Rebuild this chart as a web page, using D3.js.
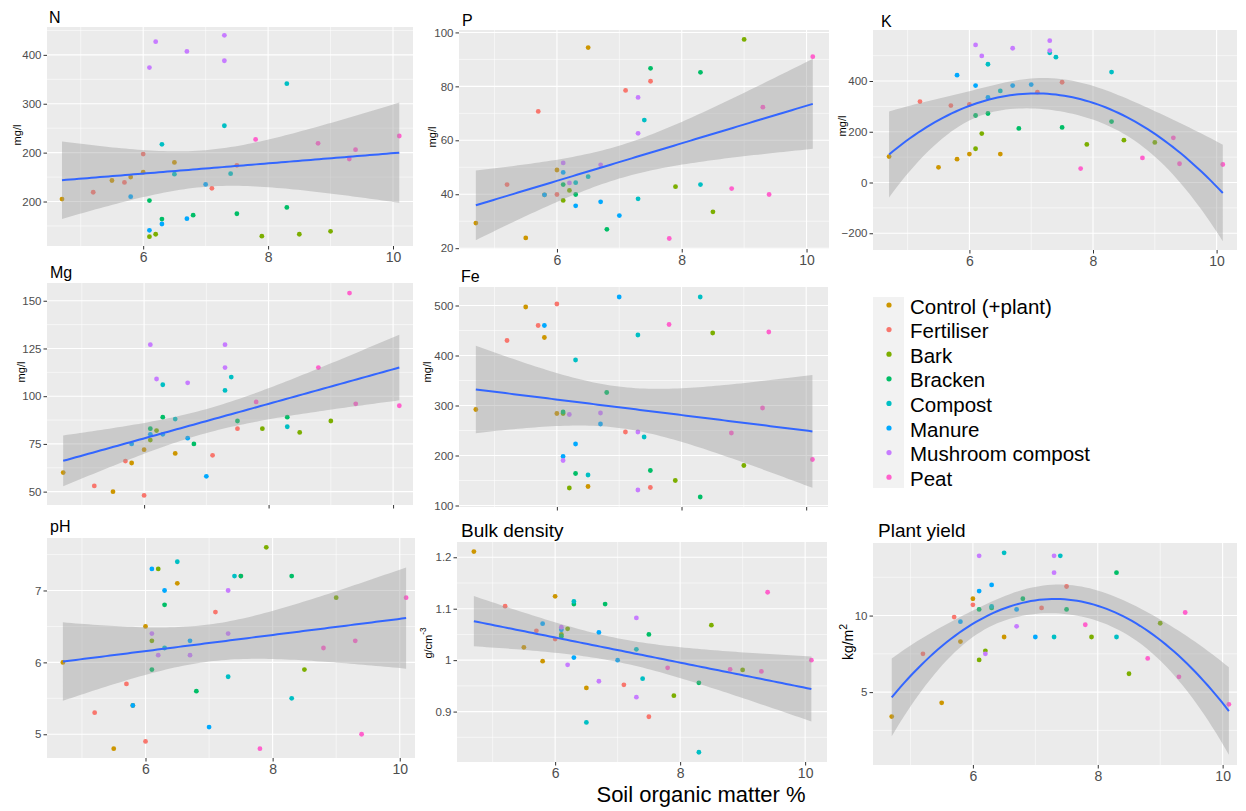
<!DOCTYPE html>
<html>
<head>
<meta charset="utf-8">
<script src="https://cdn.jsdelivr.net/npm/d3@7"></script>
<style>
  body { margin: 0; background: #ffffff; }
  svg { display: block; font-family: "Liberation Sans", Arial, Helvetica, sans-serif; }
</style>
</head>
<body>
<svg id="fig" width="1246" height="811"></svg>
<script>
// ---- Treatments (5 plots each) ----
const treatments = ["Control (+plant)", "Fertiliser", "Bark", "Bracken", "Compost", "Manure", "Mushroom compost", "Peat"];
const treatmentColours = ["#CD9600", "#F8766D", "#7CAE00", "#00BE67", "#00BFC4", "#00A9FF", "#C77CFF", "#FF61CC"];

// Soil organic matter % of each plot, grouped by treatment
const somPct = [
  [4.7, 5.5, 5.8, 6.0, 6.5],
  [5.2, 5.7, 6.0, 7.1, 7.5],
  [6.1, 6.2, 7.9, 8.5, 9.0],
  [6.1, 6.3, 6.8, 7.5, 8.3],
  [6.3, 6.5, 7.3, 7.4, 8.3],
  [5.8, 6.1, 6.3, 6.7, 7.0],
  [6.1, 6.2, 6.7, 7.3, 7.3],
  [7.8, 8.8, 9.3, 9.4, 10.1]
];

// Soil and crop measurements, same plot order as somPct
const nitrogen = [
  [105, 143, 150, 160, 180],
  [119, 139, 197, 127, 174],
  [28, 33, 29, 33, 39],
  [102, 64, 72, 75, 88],
  [217, 156, 255, 157, 341],
  [110, 41, 54, 65, 135],
  [374, 427, 407, 440, 388],
  [227, 219, 187, 206, 234]
];
const phosphorus = [
  [29.3, 23.8, 39.8, 49.0, 94.4],
  [43.6, 70.7, 39.9, 78.5, 81.9],
  [37.7, 41.4, 42.8, 33.5, 97.4],
  [43.6, 39.9, 27.0, 86.7, 85.2],
  [44.3, 46.5, 38.3, 67.5, 43.6],
  [39.8, 48.1, 35.7, 37.2, 32.1],
  [51.6, 44.2, 50.9, 75.9, 62.6],
  [23.6, 42.1, 72.3, 39.9, 91.0]
];
const potassium = [
  [102, 60, 92, 112, 112],
  [319, 303, 308, 356, 395],
  [133, 193, 150, 167, 158],
  [264, 272, 213, 217, 240],
  [466, 361, 511, 494, 435],
  [423, 382, 335, 382, 386],
  [542, 499, 529, 559, 520],
  [55, 97, 176, 74, 71]
];
const magnesium = [
  [60, 50, 65, 72, 70],
  [53, 66, 48, 69, 83],
  [77, 82, 83, 81, 87],
  [83, 89, 75, 87, 89],
  [106, 88, 103, 110, 84],
  [75, 80, 80, 78, 58],
  [127, 109, 107, 127, 115],
  [97, 115, 154, 96, 95]
];
const iron = [
  [292, 497, 436, 284, 138],
  [430, 460, 503, 247, 136],
  [284, 135, 150, 445, 180],
  [287, 164, 326, 170, 117],
  [391, 161, 441, 237, 517],
  [460, 198, 223, 263, 517],
  [190, 282, 285, 247, 131],
  [462, 245, 295, 447, 192]
];
const soilPH = [
  [6.0, 4.8, 5.4, 6.5, 7.1],
  [5.3, 5.7, 4.9, 6.7, 7.2],
  [6.3, 7.3, 7.6, 5.9, 6.9],
  [5.9, 6.8, 5.6, 7.2, 7.2],
  [6.2, 7.4, 5.8, 7.2, 5.5],
  [5.4, 7.3, 7.0, 6.3, 5.1],
  [6.4, 6.1, 6.1, 7.0, 6.4],
  [4.8, 6.2, 6.3, 5.0, 6.9]
];
const bulkDensity = [
  [1.211, 1.025, 0.998, 1.124, 0.946],
  [1.105, 1.057, 1.041, 0.952, 0.890],
  [1.050, 1.061, 0.931, 1.068, 0.981],
  [1.046, 1.109, 1.109, 1.050, 0.956],
  [1.114, 0.879, 1.021, 0.964, 0.821],
  [1.071, 1.059, 1.005, 1.054, 1.000],
  [1.064, 0.991, 0.959, 1.082, 0.928],
  [0.985, 0.982, 0.978, 1.132, 1.000]
];
const plantYield = [
  [3.4, 4.3, 8.3, 11.1, 8.6],
  [7.5, 9.9, 10.7, 10.5, 11.9],
  [7.1, 7.7, 8.6, 6.2, 9.5],
  [10.4, 10.5, 11.1, 10.4, 12.8],
  [10.6, 14.1, 8.6, 13.9, 8.6],
  [9.6, 11.6, 12.0, 10.4, 8.6],
  [13.9, 7.5, 9.3, 13.9, 12.8],
  [9.4, 7.2, 6.0, 10.2, 4.2]
];

// Axis breaks
const somTicks = [6, 8, 10];
const nTicks = [100, 200, 300, 400];
const nTickLabels = ["200", "200", "300", "400"];
const pTicks = [20, 40, 60, 80, 100];
const kTicks = [-200, 0, 200, 400];
const mgTicks = [50, 75, 100, 125, 150];
const feTicks = [100, 200, 300, 400, 500];
const phTicks = [5, 6, 7];
const bdTicks = [0.9, 1.0, 1.1, 1.2];
const bdTickLabels = ["0.9", "1", "1.1", "1.2"];
const yieldTicks = [5, 10];

// ---- Panel layout ----
const panels = [
  { title: "N", values: nitrogen, degree: 1, rect: [47, 27, 413, 246], xDomain: [4.46, 10.32], yDomain: [9, 457],
    yTicks: nTicks, yLabels: nTickLabels, yTitle: "mg/l", yTitleAt: [17, 135], titleAt: [49, 23], titleSize: 16, xLabels: true },
  { title: "P", values: phosphorus, degree: 1, rect: [459, 30, 829, 249], xDomain: [4.43, 10.36], yDomain: [19.7, 100.9],
    yTicks: pTicks, yTitle: "mg/l", yTitleAt: [432, 137], titleAt: [462, 26], titleSize: 16, xLabels: true },
  { title: "K", values: potassium, degree: 2, rect: [873, 30, 1237, 250], xDomain: [4.44, 10.33], yDomain: [-266, 601],
    yTicks: kTicks, yTitle: "mg/l", yTitleAt: [842, 126], titleAt: [881, 27], titleSize: 16, xLabels: true },
  { title: "Mg", values: magnesium, degree: 1, rect: [47, 283, 413, 505], xDomain: [4.44, 10.32], yDomain: [43, 159.3],
    yTicks: mgTicks, yTitle: "mg/l", yTitleAt: [21, 372], titleAt: [50, 278], titleSize: 16, xLabels: false },
  { title: "Fe", values: iron, degree: 1, rect: [459, 287, 828, 507], xDomain: [4.43, 10.35], yDomain: [97, 537],
    yTicks: feTicks, yTitle: "mg/l", yTitleAt: [427, 372], titleAt: [461, 282], titleSize: 16, xLabels: false },
  { title: "pH", values: soilPH, degree: 1, rect: [47, 538, 415, 758], xDomain: [4.45, 10.24], yDomain: [4.67, 7.73],
    yTicks: phTicks, yTitle: null, titleAt: [50, 532], titleSize: 16, xLabels: true },
  { title: "Bulk density", values: bulkDensity, degree: 1, rect: [457, 542, 827, 762], xDomain: [4.43, 10.35], yDomain: [0.802, 1.2297],
    yTicks: bdTicks, yLabels: bdTickLabels, yTitle: "g/cm", yTitleSup: "-3", yTitleAt: [428, 643], titleAt: [461, 537], titleSize: 19, xLabels: true },
  { title: "Plant yield", values: plantYield, degree: 2, rect: [873, 543, 1237, 765], xDomain: [4.40, 10.23], yDomain: [0.24, 14.74],
    yTicks: yieldTicks, yTitle: "kg/m", yTitleSup: "2", yTitleAt: [848, 642], yTitleSize: 14, titleAt: [878, 537], titleSize: 19, xLabels: true }
];

// ---- Least-squares polynomial fit with 95% confidence band ----
function invert(m) {
  const n = m.length;
  const a = m.map((row, i) => row.concat(d3.range(n).map(j => (i === j ? 1 : 0))));
  for (let c = 0; c < n; c++) {
    let piv = c;
    for (let r = c + 1; r < n; r++) if (Math.abs(a[r][c]) > Math.abs(a[piv][c])) piv = r;
    [a[c], a[piv]] = [a[piv], a[c]];
    const d = a[c][c];
    for (let k = 0; k < 2 * n; k++) a[c][k] /= d;
    for (let r = 0; r < n; r++) {
      if (r === c) continue;
      const f = a[r][c];
      for (let k = 0; k < 2 * n; k++) a[r][k] -= f * a[c][k];
    }
  }
  return a.map(row => row.slice(n));
}

function tQuantile975(df) {
  const z = 1.959964;
  return z + (z ** 3 + z) / (4 * df) + (5 * z ** 5 + 16 * z ** 3 + 3 * z) / (96 * df * df);
}

function smoothFit(xs, ys, degree) {
  const p = degree + 1, n = xs.length;
  const basis = v => d3.range(p).map(k => Math.pow(v - 7, k));
  const A = d3.range(p).map(() => new Array(p).fill(0));
  const b = new Array(p).fill(0);
  xs.forEach((v, i) => {
    const r = basis(v);
    for (let j = 0; j < p; j++) {
      b[j] += r[j] * ys[i];
      for (let k = 0; k < p; k++) A[j][k] += r[j] * r[k];
    }
  });
  const inv = invert(A);
  const beta = inv.map(row => d3.sum(row, (v, k) => v * b[k]));
  const predict = v => d3.sum(basis(v), (r, k) => r * beta[k]);
  const s2 = d3.sum(xs, (v, i) => (ys[i] - predict(v)) ** 2) / (n - p);
  const t = tQuantile975(n - p);
  const [lo, hi] = d3.extent(xs);
  return d3.range(81).map(i => {
    const v = lo + (hi - lo) * i / 80;
    const r = basis(v);
    let q = 0;
    for (let j = 0; j < p; j++) for (let k = 0; k < p; k++) q += r[j] * inv[j][k] * r[k];
    const fit = predict(v), se = Math.sqrt(s2 * q);
    return { x: v, y: fit, lo: fit - t * se, hi: fit + t * se };
  });
}

// Minor breaks halfway between majors, extended one step either side
function minorBreaks(major, domain) {
  const step = major[1] - major[0];
  const ext = [major[0] - step].concat(major, [major[major.length - 1] + step]);
  const out = [];
  for (let i = 0; i < ext.length - 1; i++) out.push((ext[i] + ext[i + 1]) / 2);
  return out.filter(v => v > domain[0] && v < domain[1]);
}

const svg = d3.select("#fig");

panels.forEach((pn, idx) => {
  const [x0, y0, x1, y1] = pn.rect;
  const x = d3.scaleLinear().domain(pn.xDomain).range([x0, x1]);
  const y = d3.scaleLinear().domain(pn.yDomain).range([y1, y0]);
  const g = svg.append("g");
  const clipId = "clip" + idx;
  g.append("clipPath").attr("id", clipId)
    .append("rect").attr("x", x0).attr("y", y0).attr("width", x1 - x0).attr("height", y1 - y0);

  g.append("rect").attr("x", x0).attr("y", y0).attr("width", x1 - x0).attr("height", y1 - y0).attr("fill", "#EBEBEB");

  const grid = g.append("g").attr("clip-path", `url(#${clipId})`);
  const xMinor = minorBreaks(somTicks, pn.xDomain);
  const yMinor = minorBreaks(pn.yTicks, pn.yDomain);
  grid.selectAll(".xmin").data(xMinor).join("line")
    .attr("x1", d => x(d)).attr("x2", d => x(d)).attr("y1", y0).attr("y2", y1)
    .attr("stroke", "#FFFFFF").attr("stroke-width", 0.55);
  grid.selectAll(".ymin").data(yMinor).join("line")
    .attr("y1", d => y(d)).attr("y2", d => y(d)).attr("x1", x0).attr("x2", x1)
    .attr("stroke", "#FFFFFF").attr("stroke-width", 0.55);
  grid.selectAll(".xmaj").data(somTicks).join("line")
    .attr("x1", d => x(d)).attr("x2", d => x(d)).attr("y1", y0).attr("y2", y1)
    .attr("stroke", "#FFFFFF").attr("stroke-width", 1.1);
  grid.selectAll(".ymaj").data(pn.yTicks).join("line")
    .attr("y1", d => y(d)).attr("y2", d => y(d)).attr("x1", x0).attr("x2", x1)
    .attr("stroke", "#FFFFFF").attr("stroke-width", 1.1);

  // Plot points
  const pts = [];
  treatments.forEach((t, ti) => {
    somPct[ti].forEach((s, i) => pts.push({ s, v: pn.values[ti][i], c: treatmentColours[ti] }));
  });
  const marks = g.append("g").attr("clip-path", `url(#${clipId})`);
  marks.selectAll("circle").data(pts).join("circle")
    .attr("cx", d => x(d.s)).attr("cy", d => y(d.v)).attr("r", 2.4).attr("fill", d => d.c);

  // Smoothed fit with confidence ribbon
  const allX = somPct.flat(), allY = pn.values.flat();
  const band = smoothFit(allX, allY, pn.degree);
  marks.append("path").datum(band)
    .attr("d", d3.area().x(d => x(d.x)).y0(d => y(d.lo)).y1(d => y(d.hi)))
    .attr("fill", "#999999").attr("fill-opacity", 0.4);
  marks.append("path").datum(band)
    .attr("d", d3.line().x(d => x(d.x)).y(d => y(d.y)))
    .attr("fill", "none").attr("stroke", "#3366FF").attr("stroke-width", 2);

  // Axes
  const yAxis = d3.axisLeft(y).tickValues(pn.yTicks).tickSize(3.5).tickPadding(2)
    .tickFormat((d, i) => (pn.yLabels ? pn.yLabels[i] : d3.format("")(d)));
  const ya = g.append("g").attr("transform", `translate(${x0},0)`).call(yAxis);
  const xAxis = d3.axisBottom(x).tickValues(somTicks).tickSize(3.5).tickPadding(3)
    .tickFormat(d => (pn.xLabels ? d : ""));
  const xa = g.append("g").attr("transform", `translate(0,${y1})`).call(xAxis);
  [ya, xa].forEach(a => {
    a.select(".domain").remove();
    a.selectAll(".tick line").attr("stroke", "#333333").attr("stroke-width", 1);
    a.selectAll(".tick text").attr("fill", "#4D4D4D").attr("font-family", null);
  });
  ya.selectAll(".tick text").attr("font-size", 11.5);
  xa.selectAll(".tick text").attr("font-size", 14);

  // Panel title
  g.append("text").attr("x", pn.titleAt[0]).attr("y", pn.titleAt[1])
    .attr("font-size", pn.titleSize).attr("fill", "#000000").text(pn.title);

  // Y axis title
  if (pn.yTitle) {
    const yt = g.append("text")
      .attr("transform", `translate(${pn.yTitleAt[0]},${pn.yTitleAt[1]}) rotate(-90)`)
      .attr("text-anchor", "middle").attr("dominant-baseline", "central")
      .attr("font-size", pn.yTitleSize || 11).attr("fill", "#000000").text(pn.yTitle);
    if (pn.yTitleSup) {
      yt.append("tspan").attr("dy", -5).attr("font-size", (pn.yTitleSize || 11) * 0.75).text(pn.yTitleSup);
    }
  }
});

// ---- Legend ----
const legend = svg.append("g");
legend.append("rect").attr("x", 873).attr("y", 297).attr("width", 31).attr("height", 191).attr("fill", "#F2F2F2");
treatments.forEach((t, i) => {
  const cy = 306 + i * 24.6;
  legend.append("circle").attr("cx", 889).attr("cy", cy - 1).attr("r", 2.6).attr("fill", treatmentColours[i]);
  legend.append("text").attr("x", 910).attr("y", cy).attr("dominant-baseline", "central")
    .attr("font-size", 20.5).attr("fill", "#000000").text(t);
});

// Shared x axis title
svg.append("text").attr("x", 701).attr("y", 802).attr("text-anchor", "middle")
  .attr("font-size", 22).attr("fill", "#000000").text("Soil organic matter %");
</script>
</body>
</html>
